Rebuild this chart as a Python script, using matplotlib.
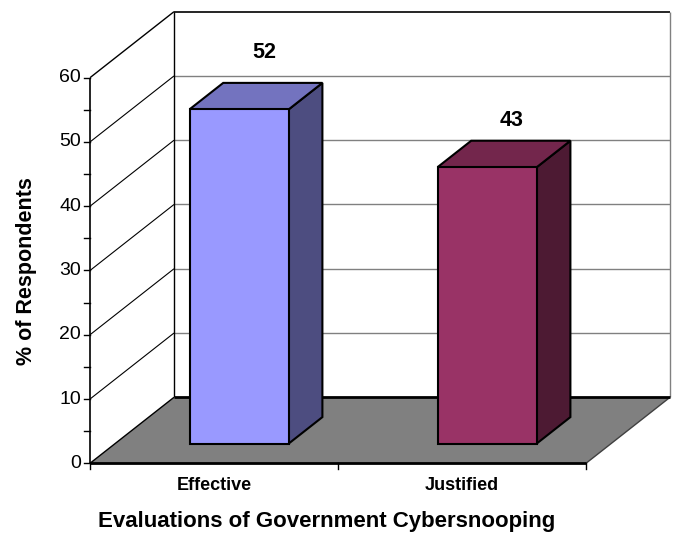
import matplotlib
matplotlib.use("Agg")
import matplotlib.pyplot as plt
from matplotlib.patches import Polygon

plt.rcParams['font.family'] = ['Liberation Sans', 'DejaVu Sans']

# data
categories = ['Effective', 'Justified']
values = [52, 43]
y_ticks = [0, 10, 20, 30, 40, 50, 60]
y_max = 60

front_colors = ['#9999FF', '#993366']
top_colors = ['#7373BF', '#73264C']
side_colors = ['#4D4D80', '#4D1A33']

# 3d box layout (pixels)
X0, Y0 = 90, 463.3          # front-left corner of the floor
CAT_W = 248                 # width of one category on the front edge
UNIT = 6.427                # pixels per percentage point
DX, DY = 84, -66            # depth offset of the back wall
BAR_W = 0.4                 # bar width in category units
D_FRONT, D_BACK = 0.3, 0.7  # bar depth range

ncat = len(categories)


def proj(c, v, d):
    """category position, value, depth -> pixel coords"""
    return (X0 + c * CAT_W + d * DX, Y0 - v * UNIT + d * DY)


def line(p, q, **kw):
    ax.plot([p[0], q[0]], [p[1], q[1]], solid_capstyle='butt', **kw)


fig = plt.figure(figsize=(6.76, 5.33), dpi=100)
ax = fig.add_axes([0, 0, 1, 1])
ax.set_xlim(0, 676)
ax.set_ylim(533, 0)
ax.axis('off')

# walls
left_wall = [proj(0, 0, 0), proj(0, y_max, 0), proj(0, y_max, 1), proj(0, 0, 1)]
back_wall = [proj(0, 0, 1), proj(0, y_max, 1), proj(ncat, y_max, 1), proj(ncat, 0, 1)]
floor = [proj(0, 0, 0), proj(ncat, 0, 0), proj(ncat, 0, 1), proj(0, 0, 1)]
ax.add_patch(Polygon(left_wall, closed=True, fc='white', ec='none', zorder=0))
ax.add_patch(Polygon(back_wall, closed=True, fc='white', ec='none', zorder=0))
ax.add_patch(Polygon(floor, closed=True, fc='#808080', ec='none', zorder=0))

# gridlines
for v in y_ticks[1:]:
    top = v == y_max
    line(proj(0, v, 0), proj(0, v, 1), color='black', lw=1.0 if top else 0.8, zorder=1)
    line(proj(0, v, 1), proj(ncat, v, 1), color='black' if top else '#808080',
         lw=1.2 if top else 1.0, zorder=1)

# box edges
line(proj(0, 0, 1), proj(0, y_max, 1), color='black', lw=1.0, zorder=1)
line(proj(ncat, 0, 1), proj(ncat, y_max, 1), color='#808080', lw=1.0, zorder=1)
line(proj(0, 0, 0), proj(0, 0, 1), color='black', lw=1.0, zorder=1)
line(proj(ncat, 0, 0), proj(ncat, 0, 1), color='#404040', lw=1.0, zorder=1)
line(proj(0, 0, 1), proj(ncat, 0, 1), color='black', lw=2.0, zorder=1)

# value axis
line(proj(0, 0, 0), proj(0, y_max, 0), color='black', lw=1.2, zorder=1)
for v in range(0, y_max + 1, 5):
    x, y = proj(0, v, 0)
    ax.plot([x - 6, x], [y, y], color='black', lw=1.0, zorder=1)
for v in y_ticks:
    x, y = proj(0, v, 0)
    ax.text(x - 9, y, str(v), ha='right', va='center', fontsize=14)

# category axis
line(proj(0, 0, 0), proj(ncat, 0, 0), color='black', lw=2.0, zorder=1)
for i in range(ncat + 1):
    x, y = proj(i, 0, 0)
    ax.plot([x, x], [y, y + 6], color='black', lw=1.0, zorder=1)
for i, name in enumerate(categories):
    x, y = proj(i + 0.5, 0, 0)
    ax.text(x, y + 22, name, ha='center', va='center', fontsize=13,
            fontweight='bold')

# bars
for i, v in enumerate(values):
    l, r = i + 0.5 - BAR_W / 2, i + 0.5 + BAR_W / 2
    front = [proj(l, 0, D_FRONT), proj(r, 0, D_FRONT),
             proj(r, v, D_FRONT), proj(l, v, D_FRONT)]
    side = [proj(r, 0, D_FRONT), proj(r, 0, D_BACK),
            proj(r, v, D_BACK), proj(r, v, D_FRONT)]
    top = [proj(l, v, D_FRONT), proj(r, v, D_FRONT),
           proj(r, v, D_BACK), proj(l, v, D_BACK)]
    for face, col in ((side, side_colors[i]), (top, top_colors[i]),
                      (front, front_colors[i])):
        ax.add_patch(Polygon(face, closed=True, fc=col, ec='black', lw=1.5,
                             joinstyle='miter', zorder=3))
    # data label above the bar
    cx, cy = proj(i + 0.5, v, 0.5)
    ax.text(cx + 8, Y0 + 4 - v * 7.59 - 20, str(v), ha='center', va='center',
            fontsize=15.5, fontweight='bold', zorder=4)

ax.text(327, 521, 'Evaluations of Government Cybersnooping', ha='center',
        va='center', fontsize=16, fontweight='bold')
ax.text(27, 271, '% of Respondents', ha='center', va='center', rotation=90,
        fontsize=15.5, fontweight='bold')

fig.savefig('out.png', dpi=100)
